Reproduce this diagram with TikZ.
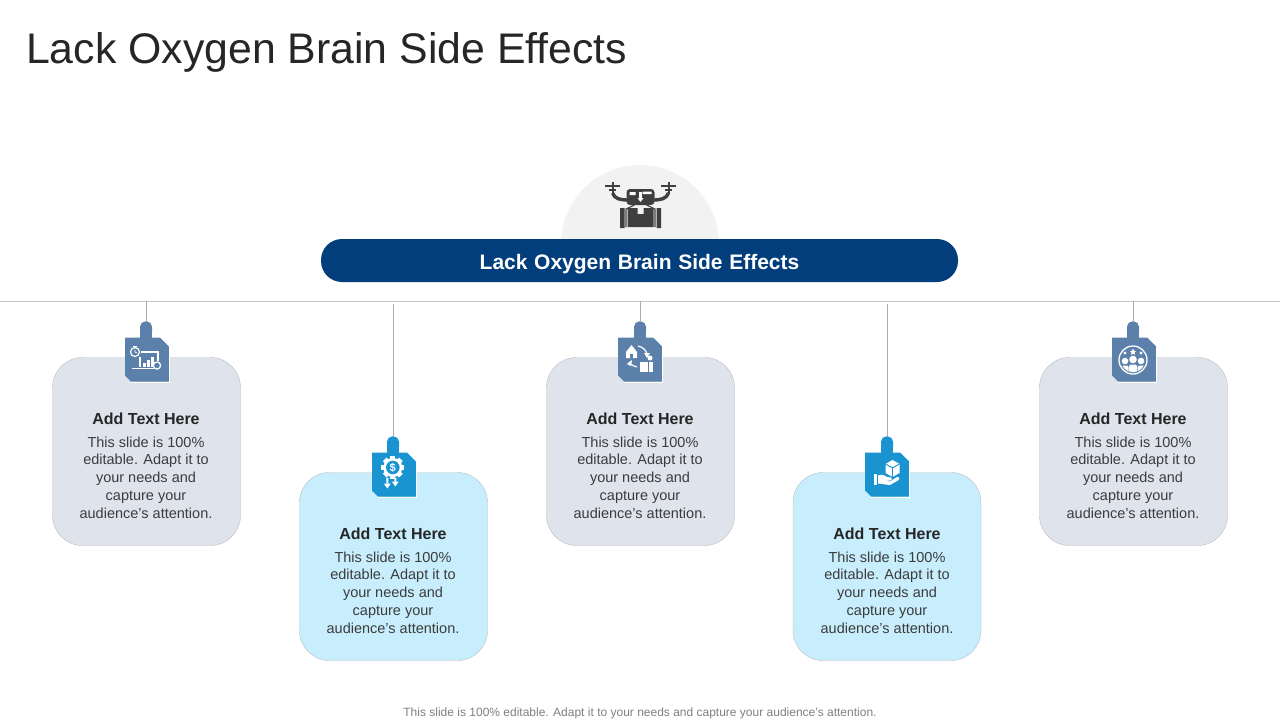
\documentclass[tikz,border=0pt]{standalone}
\usepackage{fontspec}
\setmainfont{Liberation Sans}
\usepackage{xcolor}
\usetikzlibrary{positioning}

\definecolor{navypill}{HTML}{033E7C}
\definecolor{greycard}{HTML}{DFE4EC}
\definecolor{bluecard}{HTML}{C8EEFD}
\definecolor{greytag}{HTML}{5B81AA}
\definecolor{bluetag}{HTML}{1A94D0}
\definecolor{cardline}{HTML}{B9BEC4}
\definecolor{inktext}{HTML}{262626}
\definecolor{dronegrey}{HTML}{3F3F3F}

\newcommand{\cardbody}{This slide is 100\%\\editable. Adapt it to\\your needs and\\capture your\\audience's attention.}

\begin{document}
\begin{tikzpicture}[
    x=1pt, y=-1pt,
    card/.style={draw=cardline, rounded corners=30pt, minimum width=188pt, minimum height=188pt, inner sep=0pt},
    greybox/.style={card, fill=greycard},
    bluebox/.style={card, fill=bluecard},
    tagbox/.style={minimum width=44pt, minimum height=44pt, inner sep=0pt},
    knob/.style={rounded corners=5.5pt, minimum width=12pt, minimum height=16pt},
    head/.style={font=\fontsize{16}{18}\selectfont\bfseries, text=inktext, inner sep=0pt},
    body/.style={font=\fontsize{14.5}{17.8}\selectfont, text=inktext!90, align=center, inner sep=0pt},
    conn/.style={draw=gray!65, line width=0.8pt},
    ico/.style={fill=white, draw=none},
    icoline/.style={draw=white, line width=1.2pt, fill=none}
]
\useasboundingbox (0,0) rectangle (1280,720);
\fill[white] (0,0) rectangle (1280,720);

\node[anchor=west, inner sep=0pt, text=inktext, font=\fontsize{42.8}{48}\selectfont] (title) at (26,52) {Lack Oxygen Brain Side Ef{}fects};

% top
\fill[gray!10] (561,244) arc[start angle=180, end angle=0, radius=79pt] -- cycle;
\node[fill=navypill, rounded corners=21pt, minimum width=637pt, minimum height=43pt, inner sep=0pt] (main) at (639.5,260.5) {};
\node[text=white, inner sep=0pt, font=\fontsize{21}{24}\selectfont\bfseries] (maintext) at (639.5,264) {Lack\hspace{0.04em} Oxygen\hspace{0.04em} Brain\hspace{0.04em} Side\hspace{0.04em} Ef{}fects};

\coordinate (ruleL) at (0,301);
\coordinate (ruleR) at (1280,301);
\draw[draw=gray!45, line width=0.9pt] (ruleL) -- (ruleR);

% cards
\node[greybox] (cardA) at (146.5,451.5) {};
\node[bluebox] (cardB) at (393.5,566.5) {};
\node[greybox] (cardC) at (640.5,451.5) {};
\node[bluebox] (cardD) at (887,566.5) {};
\node[greybox] (cardE) at (1133.5,451.5) {};

\foreach \nm/\cx/\cy in {A/146/419,B/393/534,C/640/419,D/887/534,E/1133/419}{
    \node[head] (head\nm) at (\cx,\cy) {Add Text Here};
    \node[body, below=11.3pt of head\nm] (body\nm) {\cardbody};
}

% tags
\foreach \nm/\kx/\cx/\cy/\col in {A/146/147/359.5/greytag,B/393/394/474.5/bluetag,C/640/640/359.5/greytag,D/887/887/474.5/bluetag,E/1133/1134/359.5/greytag}{
    \node[knob, fill=\col, anchor=south] (knob\nm) at (\kx,\cy-22) {};
    \fill[\col] (knob\nm.south west) ++(0,-6) rectangle (knob\nm.south east);
    \node[tagbox] (tag\nm) at (\cx,\cy) {};
    \fill[\col, shift={(\cx,\cy)}] (-22,-22) -- (13,-22) -- (22,-13) -- (22,22) -- (-16,22) -- (-22,16) -- cycle;
    \draw[white, line width=0.8pt, shift={(\cx,\cy)}] (22.4,-13) -- (22.4,22.4) -- (-16,22.4);
}

\coordinate (topA) at (146,301);
\coordinate (topB) at (393,304);
\coordinate (topC) at (640,301);
\coordinate (topD) at (887,304);
\coordinate (topE) at (1133,301);
\foreach \nm in {A,B,C,D,E}{
    \draw[conn] (top\nm) -- (knob\nm.north);
}

% drone
\begin{scope}[shift={(640.5,200)}]
    \draw[dronegrey, line width=3.4pt] (-28,-7) .. controls (-26,-1) and (-20,0) .. (-12,0);
    \draw[dronegrey, line width=3.4pt] (28,-7) .. controls (26,-1) and (20,0) .. (12,0);
    \fill[dronegrey, rounded corners=3.5pt] (-14,-11) rectangle (14,5);
    \fill[white] (-11,-8) rectangle (-5,-5) (2,-8.5) rectangle (11,-6);
    \fill[white] (-1.2,-8) rectangle (1.2,-2);
    \fill[white] (-3,-2) -- (3,-2) -- (0,2) -- cycle;
    \foreach \sx in {-1,1}{
        \fill[dronegrey] (\sx*28-7.5,-14.7) rectangle (\sx*28+7.5,-13.3);
        \fill[dronegrey] (\sx*28-1,-18) rectangle (\sx*28+1,-6);
        \fill[dronegrey] (\sx*28-3.5,-11) rectangle (\sx*28+3.5,-9.5);
    }
    \draw[dronegrey, line width=1.1pt] (-6,5) -- (-14.5,9) -- (-14.5,27);
    \draw[dronegrey, line width=1.1pt] (6,5) -- (14.5,9) -- (14.5,27);
    \fill[dronegrey] (-20.5,8) rectangle (-16,28) (16,8) rectangle (20.5,28);
    \fill[dronegrey] (-13,8) -- (-3,8) -- (-3,14) -- (3,14) -- (3,8) -- (13,8) -- (13,27) -- (-13,27) -- cycle;
\end{scope}

% clock and chart on laptop
\begin{scope}[shift={(147,359)}]
    \draw[icoline] (-6,-7) -- (11,-7) -- (11,2) (-7,-2) -- (-7,8);
    \draw[icoline] (-15,9.5) -- (7,9.5);
    \foreach \bx/\bh in {-4/4,0/7,4/10}{
        \fill[ico] (\bx,7.5) rectangle (\bx+2.8,7.5-\bh);
    }
    \draw[icoline, fill=greytag] (-12,-7) circle[radius=4.5pt];
    \fill[ico] (-14,-13.5) rectangle (-10,-12.2);
    \draw[white, line width=0.7pt] (-12,-9.5) -- (-12,-7) -- (-10,-6);
    \draw[icoline, fill=greytag] (10,6.5) circle[radius=3.6pt];
\end{scope}

% gear with dollar
\begin{scope}[shift={(392.8,467.5)}]
    \foreach \ang in {0,45,...,315}{
        \fill[ico, rotate=\ang] (-2.6,-11.5) rectangle (2.6,-7);
    }
    \fill[ico] (0,0) circle[radius=9.5pt];
    \fill[bluetag] (0,0) circle[radius=6.8pt];
    \node[text=white, inner sep=0pt, font=\fontsize{11}{11}\selectfont\bfseries] (dollar) at (0,0) {\$};
    \fill[ico] (-6.5,10) rectangle (-4.5,16) (1.5,10) rectangle (3.5,14);
    \fill[ico] (-9,16) -- (-2,16) -- (-5.5,21) -- cycle;
    \fill[ico] (-1,14) -- (6,14) -- (2.5,19) -- cycle;
\end{scope}

% exchange between home and desk
\begin{scope}[shift={(640,359)}]
    \fill[ico] (-14,-7) -- (-8.5,-14) -- (-3,-7) -- (-3,-1) -- (-14,-1) -- cycle;
    \fill[greytag] (-10,-5) rectangle (-7,-1);
    \draw[icoline] (-2,-13) .. controls (3,-12) and (6,-9) .. (7,-5);
    \fill[ico] (4,-6) -- (10,-6) -- (7,-1) -- cycle;
    \draw[icoline] (-3,8) .. controls (-7,7) and (-10,5) .. (-11,3);
    \fill[ico] (-13,5) -- (-8,1) -- (-9,7) -- cycle;
    \fill[ico] (0,3) rectangle (8,13);
    \fill[ico] (10,-1) circle[radius=2.5pt];
    \fill[ico] (9,3) rectangle (13,13);
\end{scope}

% hand holding a cube
\begin{scope}[shift={(887,474)}]
    \fill[ico] (5.5,-14) -- (12.5,-10) -- (12.5,-1) -- (5.5,3) -- (-1.5,-1) -- (-1.5,-10) -- cycle;
    \draw[bluetag, line width=0.9pt] (-1.5,-10) -- (5.5,-6) -- (12.5,-10) (5.5,-6) -- (5.5,3);
    \fill[ico] (-13,0) rectangle (-10,11);
    \fill[ico] (-9,1.5) .. controls (-5,0) and (-2,1) .. (0,3) -- (4,3.5) .. controls (6,4) and (5,6.5) .. (3,6.5) -- (-2,6.5) -- (3,7.5) -- (10,3) .. controls (13,3) and (13,5) .. (11,6.5) -- (3,11) -- (-9,9.5) -- cycle;
\end{scope}

% team in a ring
\begin{scope}[shift={(1133,360)}]
    \draw[white, line width=1.3pt] (0,0) circle[radius=14pt];
    \begin{scope}
        \clip (0,0) circle[radius=12.2pt];
        \fill[ico] (-8,1) circle[radius=3.3pt] (8,1) circle[radius=3.3pt] (0,-0.5) circle[radius=3.8pt];
        \fill[ico, rounded corners=1.5pt] (-14,5.5) rectangle (-4.5,16);
        \fill[ico, rounded corners=1.5pt] (4.5,5.5) rectangle (14,16);
        \fill[ico, rounded corners=1.5pt] (-4,4.5) rectangle (4,16);
    \end{scope}
    \fill[ico] (0,-11.5) -- (1,-9.2) -- (3.2,-9) -- (1.5,-7.5) -- (2,-5.2) -- (0,-6.4) -- (-2,-5.2) -- (-1.5,-7.5) -- (-3.2,-9) -- (-1,-9.2) -- cycle;
    \fill[ico] (-8,-7) circle[radius=1.6pt] (8,-7) circle[radius=1.6pt];
\end{scope}

\node[inner sep=0pt, text=gray, font=\fontsize{12}{14}\selectfont] (foot) at (640,713) {This slide is 100\% editable. Adapt it to your needs and capture your audience's attention.};
\end{tikzpicture}
\end{document}
